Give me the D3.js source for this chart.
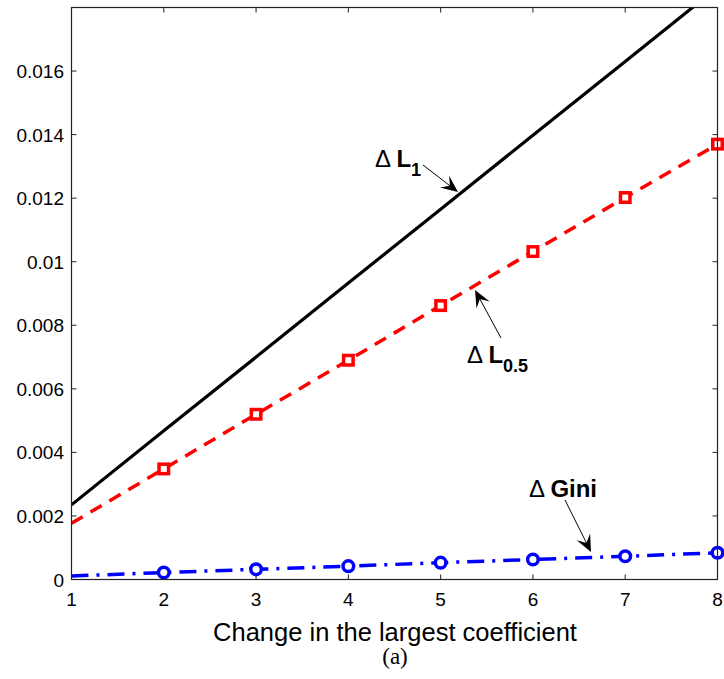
<!DOCTYPE html>
<head>
  <meta charset="utf-8">
  <script src="https://d3js.org/d3.v7.min.js"></script>
  <style>
    body { margin: 0; background: #fff; }
    svg { width: 724px; height: 679px; font-family: "Liberation Sans", Arial, sans-serif; }
  </style>
</head>
<body>
  <svg></svg>
  <script>
    var xs = [1, 2, 3, 4, 5, 6, 7, 8];
    var deltaL1 = [0.00235, 0.00468, 0.00700, 0.00933, 0.01165, 0.01398, 0.01630, 0.01863];
    var deltaL05 = [0.00177, 0.00348, 0.00520, 0.00690, 0.00862, 0.01032, 0.01202, 0.01370];
    var deltaGini = [0.00011, 0.00022, 0.00032, 0.00042, 0.00053, 0.00063, 0.00073, 0.00084];
    var yTicks = [0, 0.002, 0.004, 0.006, 0.008, 0.01, 0.012, 0.014, 0.016];
    var xTicks = [1, 2, 3, 4, 5, 6, 7, 8];

    var pl = 71.5, pr = 717.5, pt = 7.5, pb = 579.5;
    var svg = d3.select('svg');

    var x = d3.scaleLinear().domain([1, 8]).range([pl, pr]);
    var y = d3.scaleLinear().domain([0, 0.018]).range([pb, pt]);

    svg.append('defs').append('clipPath').attr('id', 'clip')
      .append('rect').attr('x', pl).attr('y', pt)
      .attr('width', pr - pl).attr('height', pb - pt);

    // ticks on all four sides, pointing inward
    var tk = 5;
    var axes = svg.append('g').attr('stroke', '#222').attr('stroke-width', 1);
    xTicks.forEach(function(t) {
      axes.append('line').attr('x1', x(t)).attr('x2', x(t)).attr('y1', pb).attr('y2', pb - tk);
      axes.append('line').attr('x1', x(t)).attr('x2', x(t)).attr('y1', pt).attr('y2', pt + tk);
    });
    yTicks.forEach(function(t) {
      axes.append('line').attr('x1', pl).attr('x2', pl + tk).attr('y1', y(t)).attr('y2', y(t));
      axes.append('line').attr('x1', pr).attr('x2', pr - tk).attr('y1', y(t)).attr('y2', y(t));
    });

    svg.selectAll('text.xt').data(xTicks).enter().append('text')
      .attr('x', function(d) { return x(d); }).attr('y', 606)
      .attr('text-anchor', 'middle').attr('font-size', 19).text(function(d) { return d; });
    svg.selectAll('text.yt').data(yTicks).enter().append('text')
      .attr('x', 64).attr('y', function(d) { return y(d) + 7; })
      .attr('text-anchor', 'end').attr('font-size', 19).text(function(d) { return d; });

    var plot = svg.append('g').attr('clip-path', 'url(#clip)');
    var line = function(vals) {
      return d3.line().x(function(d, i) { return x(xs[i]); }).y(function(d) { return y(d); })(vals);
    };

    plot.append('path').attr('d', line(deltaL1)).attr('fill', 'none')
      .attr('stroke', '#000').attr('stroke-width', 3.2);
    plot.append('path').attr('d', line(deltaL05)).attr('fill', 'none')
      .attr('stroke', '#ff0000').attr('stroke-width', 3.5).attr('stroke-dasharray', '13,9');
    plot.append('path').attr('d', line(deltaGini)).attr('fill', 'none')
      .attr('stroke', '#0000ff').attr('stroke-width', 3.5).attr('stroke-dasharray', '17,8,3,8');

    var marks = svg.append('g');
    marks.selectAll('rect').data(deltaL05.slice(1)).enter().append('rect')
      .attr('x', function(d, i) { return x(xs[i + 1]) - 4.75; })
      .attr('y', function(d) { return y(d) - 4.75; })
      .attr('width', 9.5).attr('height', 9.5)
      .attr('fill', '#fff').attr('stroke', '#ff0000').attr('stroke-width', 3.5);
    marks.selectAll('circle').data(deltaGini.slice(1)).enter().append('circle')
      .attr('cx', function(d, i) { return x(xs[i + 1]); })
      .attr('cy', function(d) { return y(d); })
      .attr('r', 5.3)
      .attr('fill', '#fff').attr('stroke', '#0000ff').attr('stroke-width', 3.5);

    // frame
    svg.append('rect').attr('x', pl).attr('y', pt)
      .attr('width', pr - pl).attr('height', pb - pt)
      .attr('fill', 'none').attr('stroke', '#222').attr('stroke-width', 1.2);

    // annotations
    function arrow(x1, y1, x2, y2) {
      var a = Math.atan2(y2 - y1, x2 - x1), len = 17, w = 7.5;
      svg.append('line').attr('x1', x1).attr('y1', y1)
        .attr('x2', x2 - Math.cos(a) * 10).attr('y2', y2 - Math.sin(a) * 10)
        .attr('stroke', '#000').attr('stroke-width', 1);
      var bx = x2 - Math.cos(a) * len, by = y2 - Math.sin(a) * len;
      var mx = x2 - Math.cos(a) * len * 0.6, my = y2 - Math.sin(a) * len * 0.6;
      var px = -Math.sin(a) * w, py = Math.cos(a) * w;
      svg.append('path')
        .attr('d', 'M' + x2 + ',' + y2 + 'L' + (bx + px) + ',' + (by + py) +
          'L' + mx + ',' + my + 'L' + (bx - px) + ',' + (by - py) + 'Z')
        .attr('fill', '#000');
    }
    function label(tx, ty, main, sub) {
      var t = svg.append('text').attr('x', tx).attr('y', ty).attr('font-size', 24);
      t.append('tspan').attr('font-weight', 'normal').text('\u0394 ');
      t.append('tspan').attr('font-weight', 'bold').text(main);
      if (sub) {
        t.append('tspan').attr('font-weight', 'bold').attr('font-size', 18)
          .attr('dy', 9).text(sub);
      }
    }
    label(375, 167, 'L', '1');
    arrow(423, 165, 458, 192);
    label(467, 363, 'L', '0.5');
    arrow(501, 338, 475, 290);
    label(529, 497, 'Gini');
    arrow(565, 500, 591, 552);

    svg.append('text').attr('x', 395).attr('y', 641).attr('text-anchor', 'middle')
      .attr('font-size', 25.5).text('Change in the largest coefficient');
    svg.append('text').attr('x', 395).attr('y', 664).attr('text-anchor', 'middle')
      .attr('font-size', 23).attr('font-family', '"Liberation Serif", "DejaVu Serif", serif')
      .text('(a)');
  </script>
</body>
